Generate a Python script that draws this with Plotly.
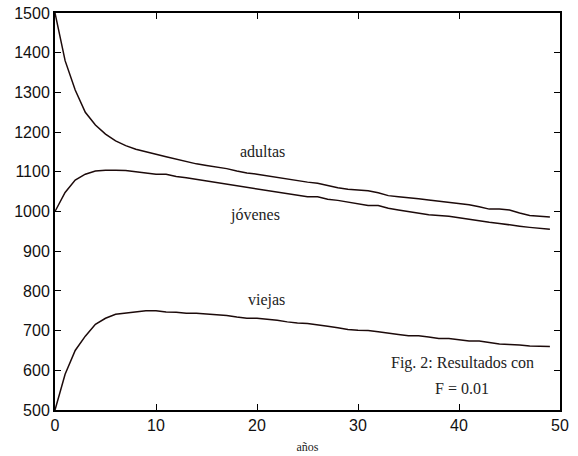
import plotly.graph_objects as go

years = list(range(50))
adultas = [1500, 1380, 1306, 1250, 1218, 1195, 1178, 1166, 1157, 1150,
           1144, 1138, 1132, 1126, 1120, 1116, 1112, 1108, 1102, 1097,
           1094, 1090, 1086, 1082, 1077, 1074, 1071, 1065, 1060, 1056,
           1054, 1052, 1047, 1040, 1037, 1035, 1032, 1029, 1026, 1023,
           1020, 1017, 1012, 1006, 1006, 1004, 996, 990, 988, 986]
jovenes = [1000, 1048, 1079, 1094, 1102, 1104, 1104, 1103, 1100, 1097,
           1094, 1094, 1088, 1085, 1081, 1077, 1073, 1069, 1066, 1062,
           1058, 1054, 1050, 1046, 1041, 1037, 1037, 1031, 1028, 1024,
           1020, 1015, 1015, 1008, 1004, 1000, 996, 992, 990, 988,
           984, 980, 976, 973, 970, 966, 963, 960, 957, 955]
viejas = [500, 590, 650, 686, 716, 731, 741, 744, 747, 750,
          750, 747, 746, 744, 744, 742, 741, 738, 734, 731,
          731, 729, 726, 722, 719, 718, 715, 711, 707, 703,
          701, 700, 697, 693, 690, 687, 687, 684, 680, 680,
          677, 674, 674, 670, 666, 665, 664, 661, 660, 660]

x_ticks = [0, 10, 20, 30, 40, 50]
y_ticks = [500, 600, 700, 800, 900, 1000, 1100, 1200, 1300, 1400, 1500]

line_color = "#1c0a0a"
fig = go.Figure()
for name, ys in [("adultas", adultas), ("jóvenes", jovenes), ("viejas", viejas)]:
    fig.add_trace(go.Scatter(x=years, y=ys, mode="lines", name=name,
                             line=dict(color=line_color, width=1.5)))

serif = "Liberation Serif"
labels = [("adultas", 20.5, 1150), ("jóvenes", 19.8, 991), ("viejas", 20.9, 777),
          ("Fig. 2: Resultados con", 40.3, 618), ("F = 0.01", 40.3, 555)]
for text, xx, yy in labels:
    fig.add_annotation(x=xx, y=yy, text=text, showarrow=False,
                       font=dict(family=serif, size=16, color="#222"))

axis_common = dict(showgrid=False, zeroline=False, showline=True, linecolor="black",
                   linewidth=2, mirror="allticks", ticks="inside", ticklen=6,
                   tickwidth=1.2, tickcolor="black", automargin=False,
                   tickfont=dict(family="Arial", size=16, color="#111"))

fig.update_layout(
    width=578, height=456,
    margin=dict(l=55, r=18, t=13, b=46),
    paper_bgcolor="white", plot_bgcolor="white",
    showlegend=False,
    xaxis=dict(range=[0, 50], tickvals=x_ticks, **axis_common,
               title=dict(text="años", font=dict(family=serif, size=12, color="#222"), standoff=9)),
    yaxis=dict(range=[500, 1500], tickvals=y_ticks, **axis_common),
)
fig.write_html("out.html", config={"displayModeBar": False},
               post_script="document.body.style.margin='0';document.body.style.overflow='hidden';")
